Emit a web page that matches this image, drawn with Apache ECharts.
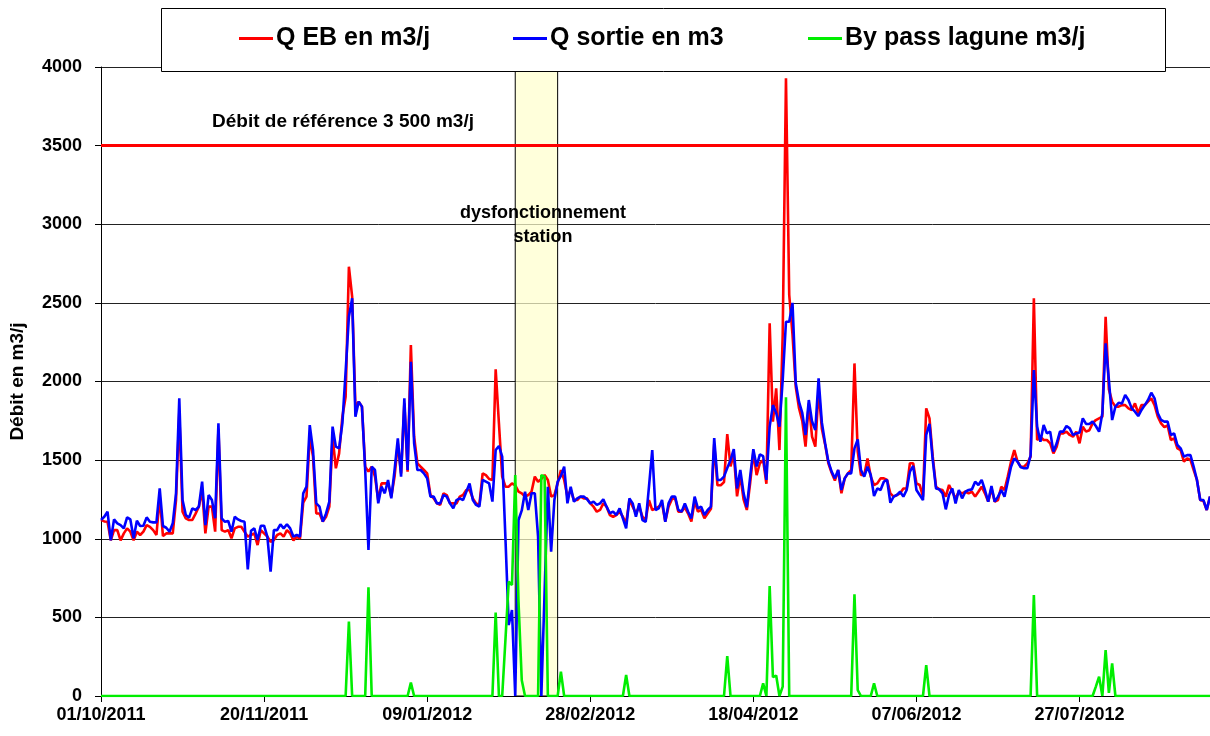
<!DOCTYPE html>
<html>
<head>
<meta charset="utf-8">
<script src="https://cdn.jsdelivr.net/npm/echarts@6/dist/echarts.min.js"></script>
<style>
html,body{margin:0;padding:0;background:#fff;}
#chart{width:1210px;height:736px;}
</style>
</head>
<body>
<div id="chart"></div>
<script>
// Daily values from 01/10/2011 (341 days)
const startDay = [2011, 9, 1];
const tickLabels = ['01/10/2011','20/11/2011','09/01/2012','28/02/2012','18/04/2012','07/06/2012','27/07/2012'];
const seriesNames = ['Q EB en m3/j', 'Q sortie en m3', 'By pass lagune m3/j'];
const referenceFlow = 3500;
const malfunctionRange = [127, 140];

const qEB = [
1120,1110,1108,990,1055,1055,990,1034,1066,1045,990,1045,1024,1045,1087,1076,1055,1024,1268,1017,
1034,1034,1034,1246,1800,1172,1130,1119,1119,1160,1204,1310,1034,1204,1204,1045,1700,1055,1045,1055,
1003,1066,1076,1076,1045,1013,1024,1034,960,1055,1034,1013,981,992,1024,1034,1013,1055,1034,990,
1013,1000,1230,1268,1650,1522,1161,1161,1109,1140,1204,1649,1448,1543,1776,1903,2730,2540,1840,1872,
1840,1458,1427,1458,1395,1246,1352,1352,1352,1268,1395,1607,1416,1861,1427,2232,1649,1480,1458,1437,
1416,1278,1257,1225,1215,1289,1278,1225,1225,1225,1268,1278,1310,1310,1257,1225,1215,1416,1405,1380,
1374,2077,1734,1395,1331,1331,1352,1340,1300,1289,1268,1278,1300,1395,1363,1380,1405,1374,1268,1278,
1352,1437,1374,1268,1310,1246,1246,1268,1257,1257,1225,1204,1172,1183,1225,1204,1151,1140,1151,1172,
1140,1100,1246,1204,1162,1204,1140,1119,1246,1183,1193,1204,1225,1110,1204,1250,1260,1172,1172,1200,
1160,1110,1240,1172,1183,1130,1160,1190,1600,1340,1340,1360,1666,1460,1540,1270,1400,1250,1183,1350,
1550,1405,1480,1500,1350,2370,1745,1956,1564,2300,3928,2550,2300,1967,1830,1750,1586,1860,1650,1586,
1950,1700,1600,1480,1420,1370,1437,1289,1384,1416,1437,2115,1554,1405,1405,1511,1395,1342,1352,1384,
1384,1374,1289,1268,1278,1289,1320,1320,1480,1480,1352,1342,1268,1829,1766,1522,1331,1314,1310,1268,
1342,1299,1257,1299,1289,1299,1289,1299,1268,1299,1331,1289,1236,1320,1236,1246,1331,1310,1395,1490,
1564,1490,1458,1458,1480,1522,2529,1628,1649,1628,1628,1607,1543,1586,1670,1670,1681,1660,1649,1681,
1607,1713,1681,1690,1734,1755,1766,1776,2412,1950,1872,1840,1840,1850,1850,1829,1819,1861,1798,1850,
1850,1872,1893,1850,1776,1734,1710,1720,1628,1638,1575,1564,1490,1511,1501,1437,1374,1246,1240,1183,1268
];

const qSortie = [
1120,1140,1172,990,1123,1098,1087,1066,1136,1123,1003,1115,1081,1083,1136,1108,1104,1104,1320,1081,
1070,1045,1098,1289,1893,1246,1151,1134,1193,1183,1204,1363,1087,1278,1246,1130,1734,1130,1108,1113,
1045,1140,1123,1113,1108,805,1051,1066,992,1083,1083,1013,791,1055,1055,1092,1066,1092,1066,1013,
1024,1013,1289,1331,1723,1564,1225,1204,1109,1161,1236,1713,1586,1575,1734,2063,2412,2529,1776,1872,
1840,1437,928,1458,1437,1225,1331,1289,1374,1257,1437,1639,1395,1893,1437,2126,1607,1437,1437,1416,
1384,1268,1268,1225,1225,1278,1268,1225,1193,1246,1257,1246,1299,1352,1246,1215,1204,1374,1363,1352,
1236,1564,1590,1522,1000,451,547,0,1119,1180,1299,1183,1289,1289,1013,0,660,1331,918,1246,
1363,1400,1458,1225,1331,1236,1257,1268,1268,1251,1225,1236,1215,1225,1251,1204,1162,1172,1151,1193,
1130,1066,1257,1225,1140,1225,1119,1108,1331,1564,1183,1193,1246,1108,1225,1268,1268,1183,1172,1225,
1172,1130,1268,1193,1204,1151,1183,1204,1640,1374,1374,1395,1450,1500,1570,1320,1437,1290,1200,1390,
1570,1460,1536,1525,1374,1713,1850,1800,1713,2010,2380,2380,2500,1990,1870,1800,1660,1882,1745,1692,
2020,1740,1607,1490,1427,1384,1437,1310,1384,1416,1416,1575,1632,1437,1395,1458,1405,1272,1320,1310,
1363,1374,1229,1268,1278,1299,1268,1310,1427,1463,1310,1278,1246,1660,1730,1500,1320,1314,1289,1187,
1278,1320,1225,1310,1257,1299,1310,1314,1363,1342,1374,1310,1236,1335,1236,1268,1310,1268,1363,1458,
1511,1490,1454,1448,1448,1530,2073,1713,1617,1723,1670,1681,1554,1607,1681,1681,1717,1702,1660,1670,
1675,1766,1730,1730,1745,1717,1681,1798,2243,2010,1755,1840,1865,1860,1914,1882,1829,1808,1780,1819,
1850,1882,1929,1893,1798,1755,1745,1745,1660,1670,1596,1575,1522,1532,1532,1458,1374,1246,1246,1183,1268
];

const byPass = [
0,0,0,0,0,0,0,0,0,0,0,0,0,0,0,0,0,0,0,0,
0,0,0,0,0,0,0,0,0,0,0,0,0,0,0,0,0,0,0,0,
0,0,0,0,0,0,0,0,0,0,0,0,0,0,0,0,0,0,0,0,
0,0,0,0,0,0,0,0,0,0,0,0,0,0,0,0,473,0,0,0,
0,0,691,0,0,0,0,0,0,0,0,0,0,0,0,85,0,0,0,0,
0,0,0,0,0,0,0,0,0,0,0,0,0,0,0,0,0,0,0,0,
0,530,0,0,360,727,706,1405,600,100,0,0,0,0,0,1405,1395,0,0,0,
0,155,0,0,0,0,0,0,0,0,0,0,0,0,0,0,0,0,0,0,
0,134,0,0,0,0,0,0,0,0,0,0,0,0,0,0,0,0,0,0,
0,0,0,0,0,0,0,0,0,0,0,0,254,0,0,0,0,0,0,0,
0,0,0,80,0,700,120,130,0,60,1900,0,0,0,0,0,0,0,0,0,
0,0,0,0,0,0,0,0,0,0,0,647,38,0,0,0,0,80,0,0,
0,0,0,0,0,0,0,0,0,0,0,0,0,197,0,0,0,0,0,0,
0,0,0,0,0,0,0,0,0,0,0,0,0,0,0,0,0,0,0,0,
0,0,0,0,0,0,642,0,0,0,0,0,0,0,0,0,0,0,0,0,
0,0,0,0,0,60,123,0,292,20,208,0,0,0,0,0,0,0,0,0,
0,0,0,0,0,0,0,0,0,0,0,0,0,0,0,0,0,0,0,0,0
];

// category labels: one per day
const start = Date.UTC(startDay[0], startDay[1], startDay[2]);
const pad = n => (n < 10 ? '0' : '') + n;
const dates = qEB.map((_, i) => {
  const d = new Date(start + i * 86400000);
  return pad(d.getUTCDate()) + '/' + pad(d.getUTCMonth() + 1) + '/' + d.getUTCFullYear();
});
const showTick = (index, value) => tickLabels.indexOf(value) !== -1;

const FONT = 'Liberation Sans, Arial, sans-serif';
const colors = ['#ff0000', '#0000ff', '#00ee00'];

const chart = echarts.init(document.getElementById('chart'), null, {renderer: 'canvas'});

const legendLefts = [239, 513, 808];
const legends = seriesNames.map((n, k) => ({
  data: [n],
  left: legendLefts[k],
  top: 26,
  orient: 'horizontal',
  padding: 0,
  icon: 'rect',
  itemWidth: 34,
  itemHeight: 3,
  z: 20,
  selectedMode: false,
  textStyle: {fontFamily: FONT, fontSize: 25, fontWeight: 'bold', color: '#000', padding: [0,0,0,-2]}
}));

const option = {
  animation: false,
  backgroundColor: '#fff',
  color: colors,
  grid: {left: 101, right: 0, top: 67, bottom: 40, containLabel: false},
  legend: legends,
  xAxis: {
    type: 'category',
    data: dates,
    boundaryGap: false,
    axisLine: {show: true, lineStyle: {color: '#000', width: 1}},
    axisTick: {show: true, interval: showTick, length: 6, lineStyle: {color: '#000'}},
    axisLabel: {
      interval: showTick,
      fontFamily: FONT, fontSize: 18, fontWeight: 'bold', color: '#000', margin: 10
    },
    splitLine: {show: false}
  },
  yAxis: {
    type: 'value',
    min: 0, max: 4000, interval: 500,
    name: 'Débit en m3/j',
    nameLocation: 'middle',
    nameRotate: 90,
    nameGap: 74,
    nameTextStyle: {fontFamily: FONT, fontSize: 19, fontWeight: 'bold', color: '#000'},
    axisLine: {show: true, lineStyle: {color: '#000', width: 1}},
    axisTick: {show: true, length: 6, lineStyle: {color: '#000'}},
    axisLabel: {fontFamily: FONT, fontSize: 18, fontWeight: 'bold', color: '#000', margin: 19,
      formatter: v => String(v)},
    splitLine: {show: true, lineStyle: {color: '#222', width: 1}}
  },
  series: [
    {
      name: seriesNames[0], type: 'line', data: qEB, symbol: 'none', z: 2,
      lineStyle: {color: colors[0], width: 2.6},
      itemStyle: {color: colors[0]},
      markLine: {
        silent: true, symbol: 'none',
        lineStyle: {color: '#ff0000', width: 3, type: 'solid'},
        label: {show: false},
        data: [{yAxis: referenceFlow}]
      }
    },
    {
      name: seriesNames[1], type: 'line', data: qSortie, symbol: 'none', z: 2,
      lineStyle: {color: colors[1], width: 2.6},
      itemStyle: {color: colors[1]}
    },
    {
      name: seriesNames[2], type: 'line', data: byPass, symbol: 'none', z: 2,
      lineStyle: {color: colors[2], width: 2.6},
      itemStyle: {color: colors[2]}
    },
    {
      name: 'zone', type: 'line', data: [], z: 4, silent: true,
      markArea: {
        silent: true,
        itemStyle: {color: 'rgba(255,255,205,0.72)', borderColor: '#000', borderWidth: 1},
        data: [[{xAxis: dates[malfunctionRange[0]], yAxis: 0}, {xAxis: dates[malfunctionRange[1]], yAxis: 3985}]]
      }
    }
  ],
  graphic: [
    {
      type: 'rect', z: 10, silent: true,
      shape: {x: 161.5, y: 8.5, width: 1004, height: 63},
      style: {fill: '#fff', stroke: '#000', lineWidth: 1}
    },
    {
      type: 'text', z: 10, silent: true,
      x: 343, y: 122,
      style: {text: 'Débit de référence 3 500 m3/j', fontFamily: FONT, fontSize: 19, fontWeight: 'bold', fill: '#000', align: 'center', verticalAlign: 'middle'}
    },
    {
      type: 'text', z: 10, silent: true,
      x: 543, y: 225,
      style: {text: 'dysfonctionnement\nstation', fontFamily: FONT, fontSize: 18, fontWeight: 'bold', lineHeight: 24, fill: '#000', align: 'center', verticalAlign: 'middle'}
    }
  ]
};

chart.setOption(option);
</script>
</body>
</html>
